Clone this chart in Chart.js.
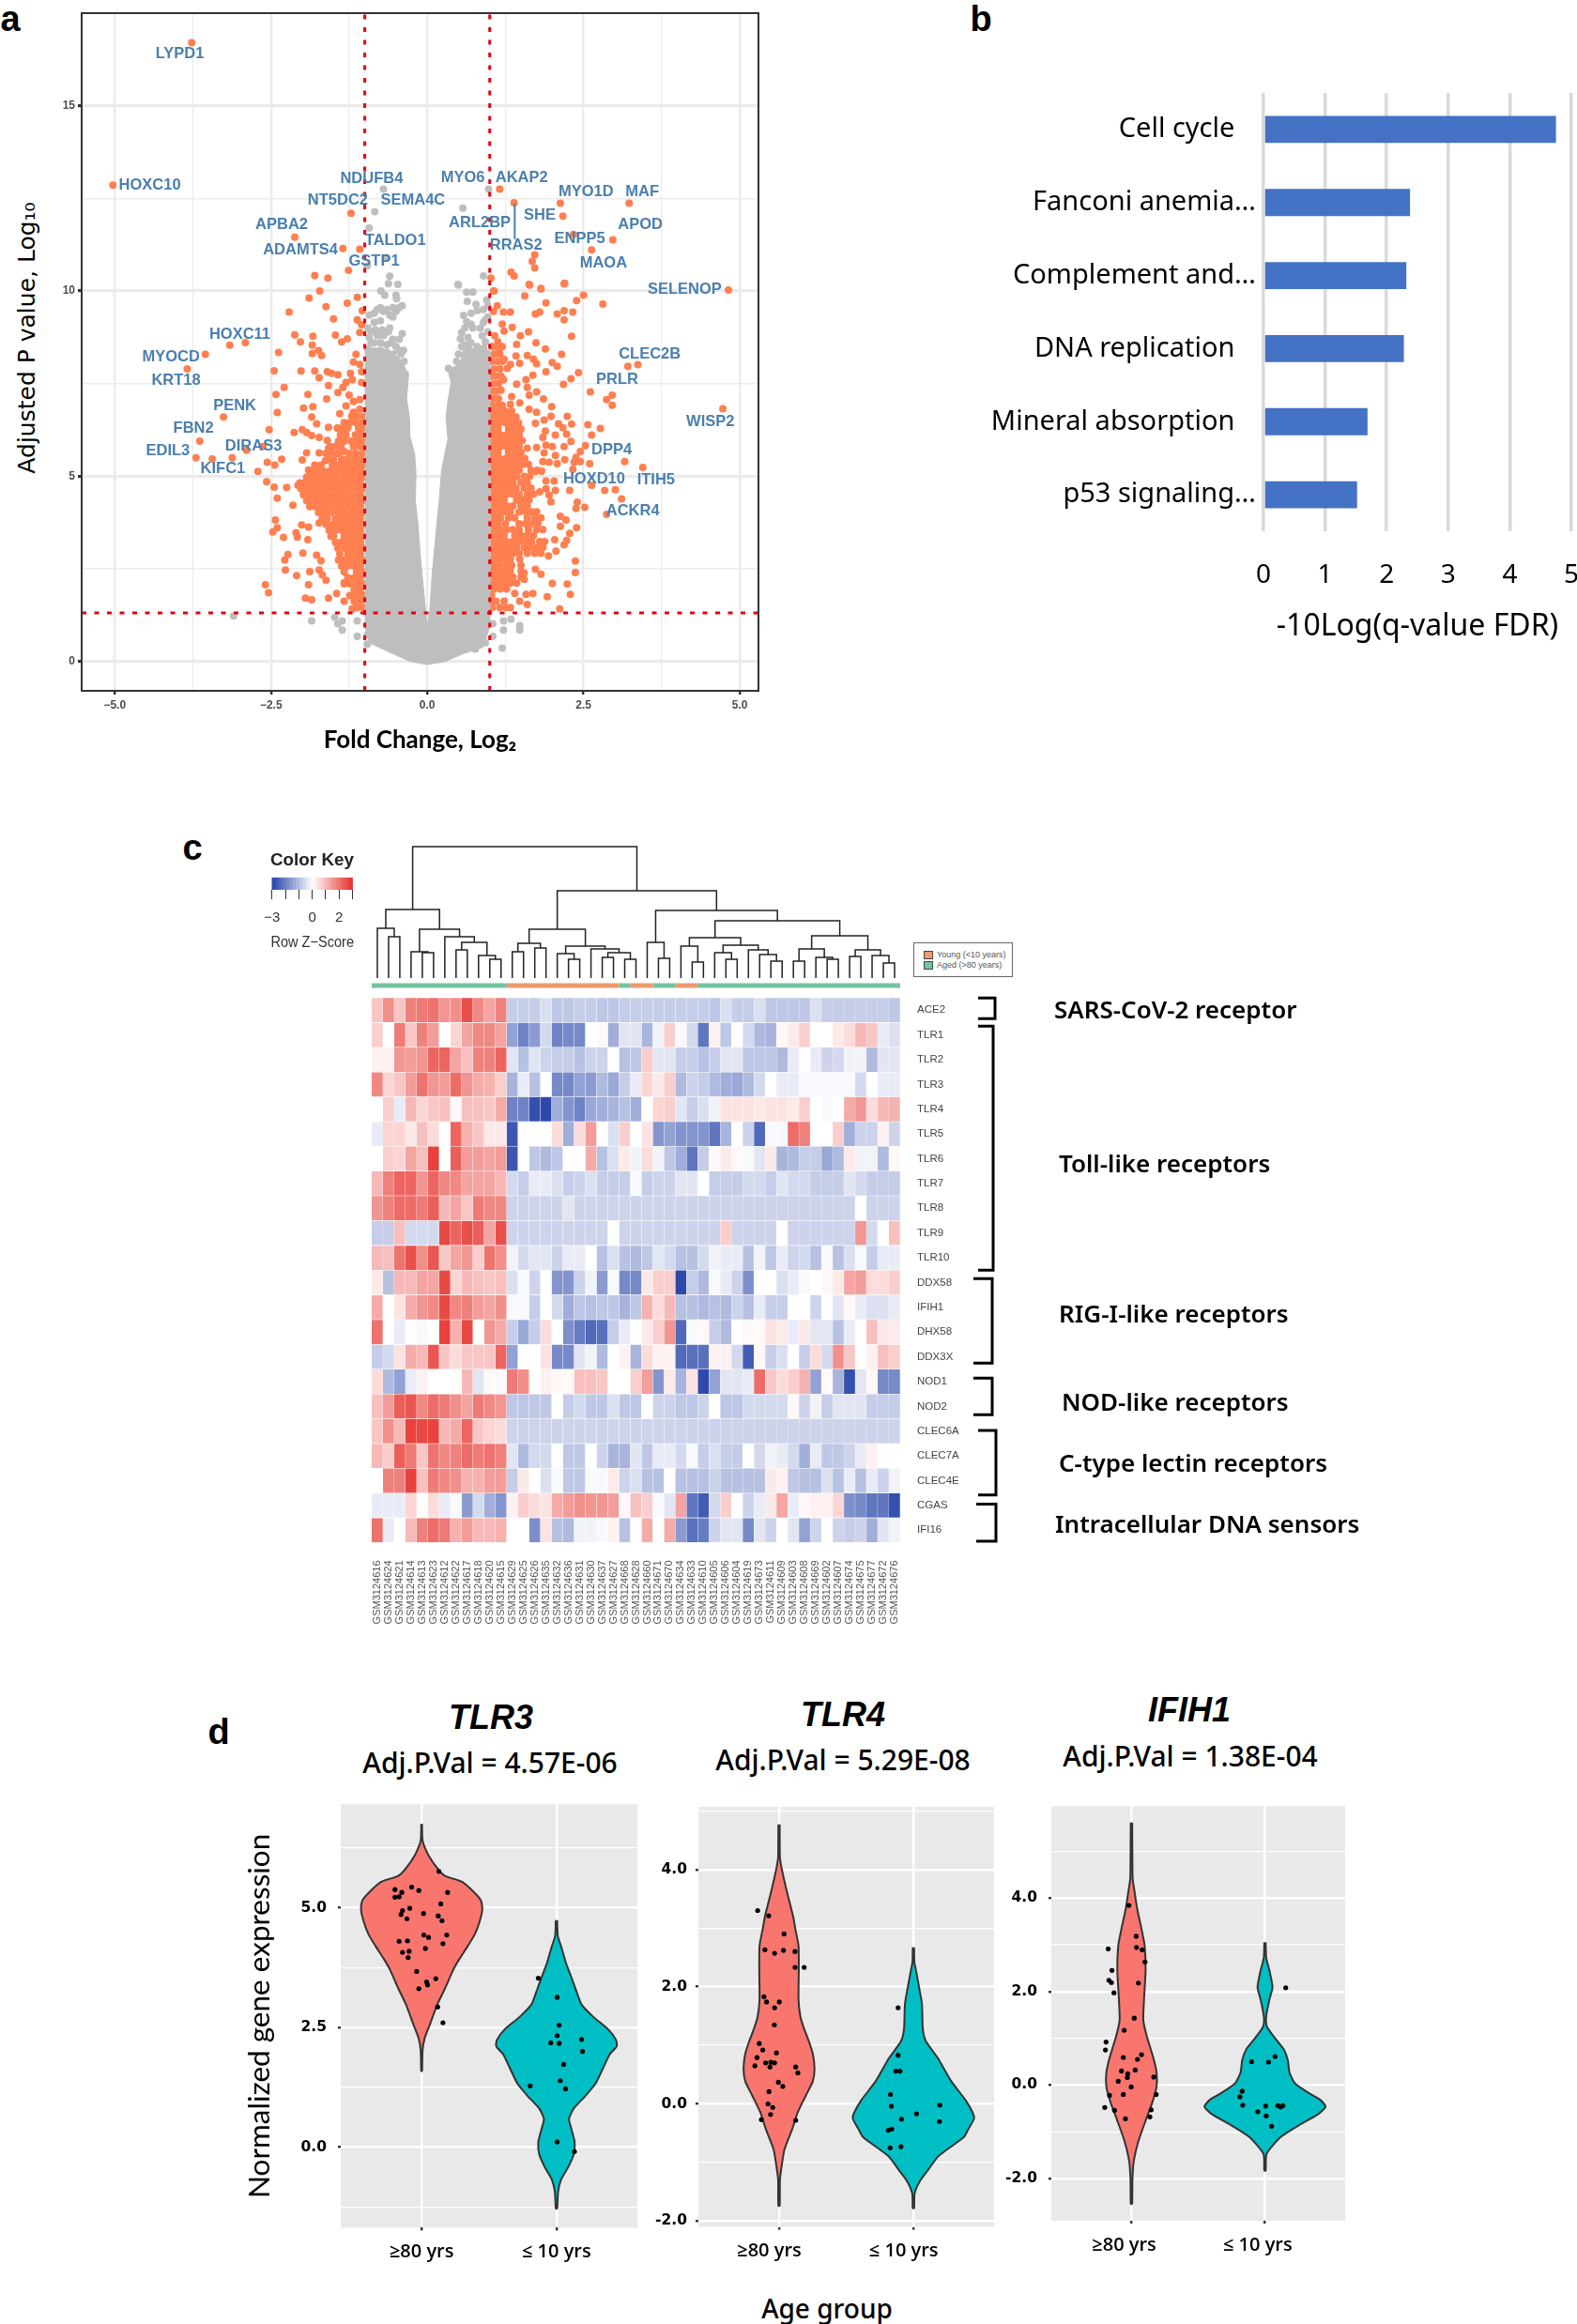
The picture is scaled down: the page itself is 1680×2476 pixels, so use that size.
<!DOCTYPE html>
<html>
<head>
<meta charset="utf-8">
<title>Figure</title>
<script src="https://cdn.jsdelivr.net/npm/chart.js@4/dist/chart.umd.min.js"></script>
<style>
  html, body { margin: 0; padding: 0; background: #fff; }
  #page { position: relative; width: 1680px; height: 2476px; overflow: hidden; }
  #page canvas { position: absolute; }
  .txt { position: absolute; white-space: nowrap; color: #000; line-height: 1; }
  #legendBox { position: absolute; left: 973px; top: 1004px; width: 104px; height: 35px; border: 1px solid #666; font: 9px "Liberation Sans"; color: #555; }
  #legendBox i { position: absolute; left: 10px; width: 8px; height: 7px; border: 1px solid #444; }
  #legendBox span { position: absolute; left: 24px; white-space: nowrap; }
</style>
</head>
<body>
<div id="page">
  <div id="legendBox">
    <i style="top:8px;background:#ee9a6d"></i><span style="top:7px">Young (&lt;10 years)</span>
    <i style="top:19px;background:#74c2a0"></i><span style="top:18px">Aged (&gt;80 years)</span>
  </div>
</div>
<script>
// ---- panel a: volcano plot ----
const volcanoXTicks = [-5, -3.75, -2.5, -1.25, 0, 1.25, 2.5, 3.75, 5];
const volcanoXMajor = [-5, -2.5, 0, 2.5, 5];
const volcanoYTicks = [0, 2.5, 5, 7.5, 10, 12.5, 15];
const volcanoYMajor = [0, 5, 10, 15];
const fcCutoffs = [-1, 1];
const padjCutoff = 1.31;

const geneNames = ['LYPD1','HOXC10','NDUFB4','MYO6','AKAP2','MYO1D','MAF','NT5DC2','SEMA4C','SHE','APBA2','ARL2BP','APOD','TALDO1','ENPP5','ADAMTS4','RRAS2','GSTP1','MAOA','SELENOP','HOXC11','CLEC2B','MYOCD','KRT18','PRLR','PENK','WISP2','FBN2','EDIL3','DIRAS3','DPP4','KIFC1','HOXD10','ITIH5','ACKR4'];
const geneLabelX = [-3.96,-4.44,-0.89,0.57,1.51,2.54,3.44,-1.43,-0.23,1.8,-2.33,0.84,3.41,-0.51,2.44,-2.03,1.42,-0.85,2.82,4.12,-3.0,3.56,-4.1,-4.02,3.04,-3.08,4.53,-3.74,-4.15,-2.78,2.95,-3.27,2.67,3.66,3.29];
const geneLabelY = [16.4,12.85,13.03,13.05,13.05,12.68,12.68,12.44,12.44,12.05,11.78,11.83,11.78,11.36,11.41,11.1,11.24,10.79,10.76,10.03,8.83,8.29,8.22,7.58,7.61,6.91,6.48,6.3,5.68,5.81,5.72,5.19,4.92,4.9,4.05];

// grey V, outline read along the inner and outer edges
const greyVX = [-1,-0.73,-0.58,-0.4,-0.3,-0.33,-0.28,-0.28,-0.2,-0.18,-0.19,-0.15,-0.1,-0.05,0,0.04,0.08,0.14,0.19,0.23,0.33,0.3,0.33,0.38,0.33,0.53,0.58,1,1,0.89,0.57,0.29,0,-0.27,-0.55,-0.92,-1];
const greyVY = [8.46,8.46,8.29,8.12,7.7,7.11,6.52,6.1,5.59,5.08,4.33,3.74,2.64,1.8,0.93,1.37,2.39,3.48,4.33,5.17,6.01,6.6,7.02,7.53,7.87,8.04,8.46,8.4,0.93,0.38,0.21,0,-0.08,0,0.21,0.5,0.93];

const greyPoints = [[-0.7,12.75],[-0.84,12.14],[-0.93,11.7],[-0.66,10.9],[-0.96,10.68],[-0.6,10.4],[-0.62,10.2],[-0.47,10.18],[0.98,12.75],[0.57,12.24],[0.9,10.41],[0.49,10.18],
  [-0.74,10],[-0.68,9.89],[-0.5,9.89],[-0.49,9.79],[-0.93,9.35],[-0.85,9.4],[-0.8,9.5],[-0.75,9.55],[-0.7,9.45],[-0.65,9.5],[-0.6,9.35],[-0.55,9.55],[-0.5,9.45],[-0.45,9.55],[-0.4,9.6],[-0.55,9.3],[-0.75,9.2],[-0.85,9.15],
  [-0.93,8.75],[-0.85,8.6],[-0.8,8.8],[-0.7,8.8],[-0.62,8.9],[-0.55,8.7],[-0.45,8.7],[-0.4,8.85],[-0.65,8.55],[-0.5,8.5],[-0.9,8.6],[-0.75,8.6],[-0.42,8.3],[-0.62,8.2],[-0.35,7.75],[-0.48,8.0],
  [-0.95,9],[-0.9,8.9],[-0.83,8.95],[-0.72,8.95],[-0.6,9],[-0.95,8.45],[-0.85,8.35],[-0.75,8.4],[-0.65,8.35],[-0.55,8.3],[-0.45,8.4],[-0.38,8.4],[-0.37,8.1],[-0.5,8.15],[-0.58,8.6],
  [0.5,10.16],[0.63,9.97],[0.73,9.97],[0.64,9.72],[0.78,9.64],[0.95,9.76],[0.58,9.34],[0.8,9.47],[0.93,9.22],[0.9,9.15],[0.63,9.17],[0.73,9],[0.55,8.88],[0.53,8.71],[0.65,8.75],[0.88,8.79],[0.93,8.63],[0.63,8.41],[0.73,8.37],[0.55,7.99],[0.34,7.91],[0.44,7.66],[0.68,7.95],[0.83,7.99],
  [0.6,8.55],[0.7,8.6],[0.8,8.5],[0.9,8.45],[0.97,8.9],[0.97,9.3],[0.85,9],[0.7,9.1],[0.6,9],[0.9,9.5],[0.97,9.6],[0.7,9.4],[0.65,8.5],[0.55,8.5],[0.5,8.3],[0.47,8.1],[0.6,8.1],
  [-3.1,1.23],[-1.85,1.1],[-1.48,1.19],[-1.36,1.1],[-1.43,1.02],[-1.36,0.85],[-1.12,1.1],[-1.12,0.68],[-0.96,0.72],[-0.96,0.47],[1.48,0.97],[1.48,0.85],[1.34,1.14],[1.22,1.1],[1.05,1.02],[1.22,0.85],[1.05,0.68],[1.2,0.36],[0.77,0.34],[0.93,0.5]];

const orangeDown = [[-3.77,16.7],[-5.03,12.86],[-1.22,12.1],[-2.12,11.45],[-1.35,11.15],[-1.08,11.13],[-1.26,10.56],[-1.8,10.42],[-1.59,10.35],[-3.16,8.54],[-2.91,8.61],[-3.55,8.29],[-3.84,7.9],[-3.26,6.6],[-3.64,5.95],[-3.7,5.5],[-3.44,5.47],[-3.12,5.5],[-2.89,5.7],[-2.63,5.8],
  [-1.72,10],[-1.89,9.81],[-1.12,9.83],[-1.28,9.67],[-1.62,9.58],[-2.21,9.43],[-1.04,9.47],[-1.5,9.25],[-1.12,9.22],[-1.05,9.09],[-1.08,8.88],[-2.12,8.82],[-1.47,8.81],[-1.83,8.78],[-2.03,8.63],[-1.28,8.71],[-1.37,8.63],[-1.84,8.54],[-1.74,8.39],[-2.38,8.34],[-1.84,8.31],[-1.69,8.26],[-1.14,8.29],[-1.18,8.08],[-1.08,8.02],
  [-2.45,7.85],[-2.02,7.84],[-1.8,7.84],[-1.6,7.82],[-1.53,7.78],[-1.43,7.74],[-1.73,7.66],[-1.23,7.78],[-1.05,7.82],[-1.2,7.61],[-1.3,7.53],[-1.58,7.45],[-2.29,7.4],[-1.35,7.4],[-1.05,7.53],[-1.43,7.26],[-2.42,7.21],[-1.91,7.21],[-1.25,7.19],[-1.61,7.09],[-1.18,7.02],[-1.08,7.07],
  [-1.98,6.84],[-1.83,6.88],[-1.3,6.9],[-2.4,6.72],[-1.4,6.69],[-1.18,6.73],[-1.08,6.81],[-1.85,6.6],[-1.15,6.52],[-1.77,6.42],[-1.28,6.43],[-1.58,6.32],[-1.43,6.29],[-2.53,6.26],[-2.13,6.18],[-2,6.26],[-1.93,6.18],[-1.85,6.1],[-1.73,6.05],[-1.6,5.97],[-1.33,6.18],[-1.08,6.26],
  [-1.93,5.63],[-1.73,5.63],[-1.58,5.76],[-2,5.44],[-1.63,5.42],[-1.48,5.59],[-1.33,5.67],[-1.9,5.17],[-2.33,5.46],[-2.44,5.3],[-2.56,5.38],[-2.71,5.13],[-2.57,4.85],[-2.45,4.71],[-2.25,4.7],[-2.07,4.76],[-2.4,4.41],[-2.15,4.22],
  [-2.43,3.82],[-2.4,3.61],[-2.47,3.5],[-2.1,3.48],[-2.08,3.36],[-2.3,3.35],[-1.91,3.29],[-2.01,3.69],[-1.9,3.63],[-1.73,3.74],[-1.99,2.93],[-2.23,2.89],[-2.28,2.74],[-1.77,2.87],[-1.7,2.72],[-2.27,2.47],[-1.88,2.43],[-1.73,2.47],[-1.68,2.34],[-2.09,2.32],[-1.62,2.19],[-1.9,2.07],[-2.59,2.07],[-2.54,1.86],[-1.95,1.71],[-1.85,1.67],[-1.58,1.71],[-1.45,1.84],[-1.33,2.13],[-1.33,1.63],[-1.2,1.42]];

const orangeUp = [[1.16,12.75],[1.39,12.38],[2.13,12.37],[3.23,12.37],[2.17,12.02],[2.34,11.53],[2.97,11.38],[2.63,11.11],[1.72,10.98],[1.68,10.8],[1.72,10.62],[1.34,10.51],[1.39,10.41],[1.02,10.35],[1.63,10.18],[2.2,10.21],[1.82,10.07],[1.06,10],[4.82,10.03],[4.73,6.82],[3.45,5.24],[3.21,7.97],[3.37,8.01],
  [1.07,10],[1.64,10.16],[1.82,10.06],[2.19,10.19],[1.56,9.87],[2.5,9.89],[2.39,9.74],[1.9,9.68],[2.81,9.65],[1.12,9.6],[1.06,9.45],[1.22,9.43],[1.33,9.43],[1.8,9.43],[1.73,9.38],[2.08,9.38],[2.19,9.47],[2.33,9.43],[2.19,9.22],[1.2,9.11],[1.36,9.02],[1.62,8.9],[1.23,8.92],[1.49,8.79],[2.31,8.78],[1.08,8.79],[1.13,8.63],[1.43,8.56],[1.74,8.6],[1.15,8.41],[1.89,8.44],[2.15,8.29],[1.6,8.26],[1.23,8.16],[1.7,8.16],[1.42,8.25],
  [1.33,8.02],[1.48,8.05],[1.75,8.04],[2,8.07],[2.08,7.97],[1.9,7.82],[1.28,7.91],[2.42,7.8],[2.3,7.63],[1.69,7.73],[2.18,7.48],[1.22,7.61],[1.58,7.61],[1.43,7.49],[1.6,7.4],[1.18,7.32],[2.61,7.28],[2.96,7.19],[2.87,7.07],[2.96,6.92],[1.75,7.28],[1.63,7.19],[1.35,7.15],[1.48,6.98],[1.86,7.09],[1.33,6.94],[1.99,6.88],[1.63,6.81],[1.75,6.73],[1.98,6.62],[2.24,6.62],[1.87,6.52],[2.1,6.42],[2.31,6.41],[2.57,6.39],[2.77,6.29],[1.73,6.43],[1.89,6.22],[2.17,6.31],[2.23,6.14],[2.05,6.11],[2.63,6.11],[1.85,6.05],[2.3,5.94],
  [1.9,5.84],[2,5.8],[2.19,5.8],[2.53,5.83],[2.45,5.67],[1.6,5.76],[1.75,5.78],[1.87,5.63],[2.05,5.56],[2.38,5.51],[2.35,5.38],[2.2,5.45],[2.6,5.34],[3.16,5.4],[2.45,5.4],[1.85,5.4],[1.95,5.38],[2.08,5.34],[2.33,5.19],[1.73,5.13],[1.83,5.14],[1.9,4.87],[2.03,4.87],[1.8,4.58],[1.9,4.66],[2.05,4.62],[1.95,4.49],[2.28,4.62],[2.63,4.76],[2.84,4.62],[3.01,4.64],[3.11,4.39],[1.98,4.31],[2.4,4.3],[2.38,4.13],[2.52,4.16],
  [2.13,3.92],[2.22,3.82],[2.87,3.97],[2.13,3.65],[2.39,3.61],[2.28,3.46],[2.04,3.29],[2.23,3.27],[2.19,3.15],[2.06,2.98],[1.94,2.85],[2.37,2.71],[2.37,2.4],[1.73,2.49],[1.82,2.36],[1.35,2.6],[2,2.11],[2.24,2.09],[1.4,1.84],[1.58,1.81],[1.69,1.84],[1.92,1.75],[2.29,1.81],[1.48,1.63],[1.6,1.54],[1.1,1.63],[1.23,1.63],[1.33,1.46],[2.12,1.42],[1.5,2.6],[1.55,2.39],[1.55,2.22]];

// crowded genes next to the cutoffs, listed row by row as [y, [x, x, ...]]
const crowdedDown = [
  [6.62,[-1.02,-1.12,-1.21]],[6.45,[-1.04,-1.14,-1.24,-1.33]],[6.3,[-1.03,-1.1,-1.27,-1.36,-1.44]],[6.12,[-1.06,-1.15,-1.3,-1.39]],[5.95,[-1.03,-1.12,-1.22,-1.33,-1.42]],[5.8,[-1.07,-1.18,-1.38,-1.47,-1.55]],
  [5.62,[-1.03,-1.14,-1.24,-1.42,-1.52,-1.62]],[5.46,[-1.07,-1.17,-1.28,-1.37,-1.5,-1.58]],[5.3,[-1.03,-1.12,-1.22,-1.32,-1.42,-1.52,-1.7,-1.8]],[5.14,[-1.06,-1.16,-1.26,-1.36,-1.46,-1.56,-1.66,-1.76,-1.86]],
  [4.98,[-1.03,-1.12,-1.22,-1.32,-1.43,-1.53,-1.63,-1.73,-1.83,-1.93]],[4.82,[-1.07,-1.17,-1.27,-1.37,-1.47,-1.57,-1.68,-1.78,-1.88,-1.98,-2.04]],[4.66,[-1.03,-1.12,-1.23,-1.32,-1.42,-1.53,-1.63,-1.73,-1.83,-1.93,-2.02]],[4.5,[-1.07,-1.17,-1.28,-1.38,-1.48,-1.58,-1.68,-1.78,-1.88,-1.98]],
  [4.34,[-1.03,-1.13,-1.23,-1.33,-1.43,-1.53,-1.63,-1.73,-1.83,-1.93]],[4.18,[-1.07,-1.17,-1.28,-1.38,-1.48,-1.59,-1.69,-1.8,-1.88]],[4.02,[-1.03,-1.13,-1.22,-1.33,-1.43,-1.54,-1.64,-1.74]],[3.86,[-1.07,-1.17,-1.27,-1.37,-1.47,-1.6,-1.68]],
  [3.7,[-1.03,-1.12,-1.23,-1.33,-1.43,-1.52,-1.62]],[3.54,[-1.07,-1.17,-1.27,-1.37,-1.47,-1.57]],[3.38,[-1.03,-1.13,-1.22,-1.33,-1.5,-1.54]],[3.22,[-1.07,-1.17,-1.28,-1.38,-1.47]],[3.06,[-1.03,-1.13,-1.23,-1.32,-1.43]],[2.9,[-1.07,-1.17,-1.27,-1.4]],
  [2.74,[-1.03,-1.12,-1.23,-1.33,-1.42]],[2.58,[-1.07,-1.18,-1.28,-1.37]],[2.42,[-1.03,-1.13,-1.33]],[2.26,[-1.07,-1.17,-1.27]],[2.1,[-1.03,-1.13,-1.24,-1.33]],[1.94,[-1.07,-1.17]],[1.78,[-1.03,-1.14,-1.24]],[1.62,[-1.07,-1.17]],[1.46,[-1.03,-1.12]]
];
const crowdedUp = [
  [8.5,[1.04,1.12,1.2]],[8.3,[1.07,1.16]],[8.1,[1.03,1.12,1.2]],[7.9,[1.07,1.16]],[7.7,[1.03,1.1,1.18]],[7.5,[1.06,1.14]],[7.3,[1.03,1.1]],[7.1,[1.06,1.14]],[6.92,[1.03,1.12,1.2]],[6.76,[1.06,1.15,1.25,1.35]],
  [6.6,[1.03,1.12,1.22,1.32,1.42]],[6.44,[1.06,1.16,1.26,1.36,1.46]],[6.28,[1.03,1.13,1.3,1.4,1.5]],[6.12,[1.07,1.17,1.27,1.37,1.47]],[5.96,[1.03,1.13,1.23,1.33,1.43,1.52]],[5.8,[1.07,1.17,1.27,1.37,1.47]],
  [5.64,[1.03,1.13,1.3,1.4,1.5]],[5.48,[1.06,1.16,1.26,1.36,1.46,1.56]],[5.32,[1.03,1.13,1.23,1.33,1.43,1.53,1.62]],[5.16,[1.07,1.17,1.27,1.37,1.47,1.66,1.76]],[5,[1.03,1.13,1.23,1.33,1.43,1.55,1.64]],[4.84,[1.07,1.17,1.27,1.37,1.5,1.6]],
  [4.68,[1.03,1.13,1.23,1.33,1.42,1.55,1.66]],[4.52,[1.07,1.17,1.27,1.37,1.47,1.6,1.7]],[4.36,[1.03,1.13,1.23,1.43,1.53,1.63]],[4.2,[1.07,1.17,1.27,1.37,1.5,1.6]],[4.04,[1.03,1.13,1.23,1.33,1.47,1.57,1.67,1.75]],[3.88,[1.07,1.17,1.3,1.4,1.6,1.72,1.82]],
  [3.72,[1.03,1.13,1.25,1.47,1.57,1.67,1.77]],[3.56,[1.07,1.17,1.27,1.37,1.47,1.62,1.75,1.85]],[3.4,[1.03,1.13,1.23,1.4,1.5,1.6,1.7]],[3.24,[1.07,1.17,1.27,1.37,1.47,1.57,1.67,1.8,1.88]],[3.08,[1.03,1.13,1.23,1.33,1.43,1.55,1.65,1.75,1.85]],[2.92,[1.07,1.17,1.27,1.37,1.47,1.6,1.72,1.82]],
  [2.76,[1.03,1.13,1.23,1.33,1.48]],[2.6,[1.07,1.17,1.28]],[2.44,[1.03,1.13,1.23,1.33,1.5]],[2.28,[1.07,1.17,1.27,1.37,1.5]],[2.12,[1.03,1.13,1.23,1.33,1.43]],[1.96,[1.07,1.17,1.27]],[1.8,[1.03]],[1.62,[1.04]],[1.46,[1.04,1.16,1.26]]
];
const rras2LeaderX = [1.4, 1.4];
const rras2LeaderY = [12.35, 11.4];

// ---- panel b: pathway bars ----
const pathwayNames = ['Cell cycle   ', 'Fanconi anemia…', 'Complement and…', 'DNA replication   ', 'Mineral absorption   ', 'p53 signaling…'];
const pathwayValues = [4.75, 2.38, 2.32, 2.28, 1.69, 1.52];

// ---- panel c: heatmap ----
const sampleIds = ['GSM3124616','GSM3124624','GSM3124621','GSM3124614','GSM3124613','GSM3124623','GSM3124612','GSM3124622','GSM3124617','GSM3124618','GSM3124620','GSM3124615','GSM3124629','GSM3124625','GSM3124626','GSM3124635','GSM3124632','GSM3124636','GSM3124631','GSM3124630','GSM3124637','GSM3124627','GSM3124668','GSM3124628','GSM3124660','GSM3124671','GSM3124670','GSM3124634','GSM3124633','GSM3124610','GSM3124605','GSM3124606','GSM3124604','GSM3124619','GSM3124673','GSM3124611','GSM3124609','GSM3124603','GSM3124608','GSM3124669','GSM3124602','GSM3124607','GSM3124674','GSM3124675','GSM3124677','GSM3124672','GSM3124676'];
const rowNames = ['ACE2','TLR1','TLR2','TLR3','TLR4','TLR5','TLR6','TLR7','TLR8','TLR9','TLR10','DDX58','IFIH1','DHX58','DDX3X','NOD1','NOD2','CLEC6A','CLEC7A','CLEC4E','CGAS','IFI16'];
const zACE2 = [.8,1.6,.8,1.8,1.9,2,1.5,1.6,2.5,1.7,1.3,1.8, -.8,-.8,-.8,-.5,-.9,-.9,-.8,-.8,-.9,-.9,-.8,-.8,-.8,-.8,-.8,-.8,-.8,-.8,-.9,-.5,-.8,-.8,-.5,-.9,-.9,-.9,-.9,-.5,-.8,-.8,-.8,-.8,-.8,-.8,-.9];
const zTLR1 = [.7,0,1.9,.8,1.8,1.4,0,.6,1.3,1.7,1.7,1.3, -1.5,-2,-1.6,-.6,-2,-1.9,-1.9,0,.1,-1.3,-.4,-.4,-1.2,-.2,.7,-.1,-.6,-2.2,.2,-.9,0,-.6,-1.1,-1.2,.1,.3,.7,0,0,.3,.5,1,.8,-.3,-.5];
const zTLR2 = [.2,.2,1.5,1.4,1.5,2.2,2.2,1.3,.9,1.8,1.8,2.2, -.4,-1,-.4,-.7,-.8,-.8,-1,-.7,-.7,0,-1,-.9,.7,-.4,-.4,-.8,-.8,-1,-.8,-.4,-.4,-.9,-.9,-.9,-1.1,-.3,0,-.3,-.7,-.6,-.2,-.2,-1.1,-.4,-.4];
const zTLR3 = [1.7,.6,.8,1.4,2,1.5,1.4,2.1,1.5,1.2,1.1,.7, -1.2,-.3,-1,0,-1.9,-1.9,-1.5,-1.6,-1.1,-1.4,-.8,-.3,.6,.3,.7,-1.1,-.7,-.8,-1.1,-1.3,-1.4,-1.1,-.6,0,-.3,-.3,-.1,-.1,-.1,-.1,-.1,-.6,0,-.3,-.3];
const zTLR4 = [0,.7,-.3,1,.6,.8,.9,.1,.9,.9,.8,1.2, -2,-2,-2.8,-2.9,-1.3,-1.7,-2,-1.4,-1.3,-1.2,-1,-1.3,0,.6,.7,-.4,-.8,-.5,-.2,.4,.4,.4,.3,.4,.4,.3,.7,0,-.1,0,1.2,1.5,.5,1,1.1];
const zTLR5 = [-.3,.6,.6,.3,.9,.5,0,2.2,1.1,.8,.3,.3, -2.7,0,0,0,.5,-1.3,.5,1.4,0,-.5,.7,0,.4,-1.7,-1.5,-1.7,-1.7,-1.7,-2.2,-1.2,0,-.7,-2.4,-.1,-.1,2.1,1.8,0,0,.7,-1.3,-.7,-.7,.2,-.7];
const zTLR6 = [0,.7,.6,1.3,.9,2.7,0,2.3,1.4,1.4,1.3,1.4, -2.7,0,-.9,-1.1,-.9,0,0,1.2,-1,-.5,.3,-.2,.5,-.2,-.9,-1.3,-2.2,-.8,.1,.3,.1,-.1,-.4,.3,-1.2,-1.1,-.8,-.8,-1.4,-1.1,.3,-.2,-.2,-1.1,.1];
const zTLR7 = [1,1.8,2.2,2.2,1.5,2.2,1.7,1.7,1.3,1.3,1.3,1, -.6,-.8,-.3,-.3,-.5,-.8,-.7,-.5,-.8,-.8,-.8,-.1,-.8,-.7,-.7,-.4,-.4,0,-.8,-.8,-.8,-.6,-.6,-.8,-.4,-.6,-.6,-.8,-.8,-.8,-.4,-.6,-.8,-.8,-.8];
const zTLR8 = [1.5,1.8,2.1,2.1,1.9,2.3,1,1.3,.8,1.9,1.7,1.7, -.7,-.7,-.7,-.7,-.7,-.4,-.7,-.7,-.7,-.7,-.7,-.7,-.7,-.7,-.7,-.7,-.7,-.7,-.7,-.7,-.7,-.7,-.7,-.7,-.7,-.7,-.7,-.7,-.7,-.7,-.7,0,-.7,-.7,-.7];
const zTLR9 = [-.8,-.8,.9,-.6,-.6,-.6,2.6,2.2,2.5,2.3,1.3,2.5, -.7,-.7,-.7,-.7,-.7,-.7,-.7,-.7,-.7,0,-.7,-.7,-.7,-.7,-.7,-.7,-.7,-.7,-.7,.7,-.7,-.7,-.7,-.7,0,-.7,-.7,-.7,-.7,-.7,-.7,1.5,-.6,0,.9];
const zTLR10 = [1,.9,2,2.5,1.6,2.4,.8,1.3,1.5,.7,2,1.6, -.2,-.6,-.4,-.4,-.7,-.3,-.3,0,-1,-.5,-1,-1.1,-.9,-.4,-.6,-1,-1,-.6,-.2,-.3,-.3,-1,-.2,-.9,-.3,-.7,-.6,-1,-.1,-1,-.5,-.1,-.8,-.3,-.3];
const zDDX58 = [.3,-1,1,1,1.3,1.3,2.6,.6,1,.9,.8,.9, -.5,-.1,-.7,0,-1.7,-1.7,-.7,-.2,-1.6,-.1,-1.9,-1.9,.3,.7,.7,-2.9,-.8,-1.1,-.1,-.3,-.7,-1.8,0,0,-.5,-.3,-.1,0,.1,.3,1.3,1.4,.5,.5,.7];
const zIFIH1 = [1.2,0,.4,1.2,1.5,1.7,2.6,1.7,1.8,1.4,1.3,1.6, -.1,-.1,-.8,0,-.6,-1.3,-.9,-1,-.9,-.9,-1.2,-.9,1.1,.5,1,-1,-1,-1.1,-1,-1.1,-.7,-1,-.3,-.8,-.8,0,0,-.7,0,-.4,.1,-.3,-.5,-.5,-.3];
const zDHX58 = [2,0,-.3,0,-.1,0,2.7,1.1,2.6,0,1.5,1.2, -.8,-1.4,-.8,.5,0,-1.8,-2.1,-2.4,-2.3,-.8,-.3,0,.3,.7,1.5,-2.4,-.1,.1,-.8,-1.1,0,.1,.1,.4,.3,-.3,.3,-.4,-.4,-1,-.3,0,.9,.3,.3];
const zDDX3X = [-.8,-.6,.4,1.2,1,2.4,.8,.5,.8,.8,.8,2.2, -1.5,0,0,.4,-1.9,-1.9,-.4,-.2,-1.1,0,.2,-1.2,.5,.2,.2,-2.4,-2.3,-2.3,.2,.2,-.6,-2.6,.1,-.8,-.5,0,-.8,.5,-.6,1.6,.8,0,.2,.9,.7];
const zNOD1 = [.5,-1.1,-1.5,-.3,.2,0,0,0,1,-.4,.1,.1, 1.9,1.6,0,.2,.1,.1,.9,.9,.8,0,0,.7,1.4,-1.7,.3,-1.2,.4,-2.9,-1.5,-.4,-.4,-.3,2.1,.8,.5,.7,1.1,-1.5,.1,-1.2,-2.8,-.4,.1,-1.9,-1.9];
const zNOD2 = [.9,1.4,2.3,2.4,1.7,2.1,1.9,1.6,1.3,1.9,1.7,1.5, -.9,-.9,-.9,-.9,0,-.8,-.6,-.9,-.9,-.5,-.9,-.9,0,-.7,-.7,-.9,-.9,-.7,0,-.9,-.9,-.6,-.6,-.6,-.6,.1,-.7,-.2,-.8,-.4,-.4,-.4,-.8,-.8,-.8];
const zCLEC6A = [.8,1.6,1,2.7,2.6,2.7,1,1.2,2.2,.8,.6,.5, -.7,-.7,-.7,-.7,-.7,-.7,-.7,-.7,-.7,-.7,-.7,-.7,-.7,-.7,-.7,-.7,-.7,-.7,-.7,-.7,-.7,-.7,-.7,-.7,-.7,-.7,-.7,-.7,-.7,-.7,-.7,-.7,-.7,-.7,-.7];
const zCLEC7A = [1,.7,2.3,1.9,.8,2,1.7,1.8,2.1,1.9,2,1.8, -.4,-1.1,-.6,-.6,0,-.9,-.9,0,-.7,-1.2,-1.2,-.4,-.9,-.3,-.3,-.6,-.1,-.8,-.5,-.8,-.8,0,-.6,-.2,-.3,-.6,-1.3,-.3,-.9,-.9,-.7,-.3,.2,0,0];
const zCLEC4E = [0,1.8,1.8,2.7,.9,1.9,1.7,1.6,1.1,1.1,1.4,1.4, -.8,.3,0,-.5,-.1,-.9,-.9,-.1,-.1,.3,-.7,-.5,-1,-1,0,-1,-1,-1,-.7,-1,-1,-1,-1,.3,.2,-.9,-1,-1,-.5,-1,-.3,-1,-.3,-.7,-.2];
const zCGAS = [-.3,-.3,-.3,.6,0,.5,-.3,-.1,-1.6,-.6,-1.3,-1.7, .2,.7,.5,.4,1.2,1.4,1.6,1.5,1.5,1.4,.1,.9,.7,-.1,-.4,1.3,-2.2,-2.6,-.6,.7,0,-.7,-.3,.3,1.3,-.3,.1,.2,.2,.6,-1.8,-1.9,-2.2,-2.2,-2.8];
const zIFI16 = [2,-.3,0,1,1.8,2.1,1.9,1.1,1.4,1,1,1.1, 0,0,-1.8,.4,-1,-1.1,-.2,-.2,-.1,.2,-1,0,1.2,0,1.2,-1.6,-2.3,-2.1,-.7,-.4,-.4,-1.9,-.4,-.7,0,-.4,-1.5,-.7,0,-.7,-.8,-.7,-1.3,-.4,-.2];
const heatRows = [zACE2,zTLR1,zTLR2,zTLR3,zTLR4,zTLR5,zTLR6,zTLR7,zTLR8,zTLR9,zTLR10,zDDX58,zIFIH1,zDHX58,zDDX3X,zNOD1,zNOD2,zCLEC6A,zCLEC7A,zCLEC4E,zCGAS,zIFI16];

const colorKeyBreaks = [-3,-2.75,-2.5,-2.25,-2,-1.75,-1.5,-1.25,-1,-0.75,-0.5,-0.25,0,0.25,0.5,0.75,1,1.25,1.5,1.75,2,2.25,2.5,2.75,3];
const colorKeyTicks = [-3,-2,-1,0,1,2,3];
const colorKeyLabelled = [-3,0,2];

// receptor groups right of the heatmap, bracket ends in row units
const groupNames = ['SARS-CoV-2 receptor','Toll-like receptors','RIG-I-like receptors','NOD-like receptors','C-type lectin receptors','Intracellular DNA sensors'];
const groupBracketTop = [-.49,.65,10.84,14.86,16.97,19.95];
const groupBracketEnd = [.34,10.5,14.25,16.34,19.58,21.44];
const groupLabelRow = [.04,6.28,12.35,15.91,18.34,20.84];

// dendrogram as nested [height, left, right], a plain number is a column index
const treeAged = [73,[53,0,[44,1,2]],[52,[28,3,[27,4,5]],[44,6,[38,[30,7,8],[24,9,[20,10,11]]]]]];
const treeMid = [52,[37,[28,12,13],[32,14,15]],[34,[26,16,[20,17,18]],[31,19,[27,[22,20,21],[20,22,23]]]]];
const treeRest = [72,[38,24,[21,25,26]],[61,[43,[34,27,[17,28,29]],[35,[27,30,[20,31,32]],[30,33,[25,34,[18,35,36]]]]],[45,[31,[18,37,38],[22,39,[20,40,41]]],[30,[23,42,43],[24,44,[16,45,46]]]]]];
const dendroTree = [140,treeAged,[93,treeMid,treeRest]];
const groupBreaks = [0,12,22,23,25,27,29,47];
const groupBarColors = ['#74c2a0','#ee9a6d','#74c2a0','#ee9a6d','#74c2a0','#ee9a6d','#74c2a0'];

// ---- panel d: violins, half widths at the listed expression values ----
const ageGroups = ['≥80 yrs', '≤ 10 yrs'];

const tlr3OldY = [6.75,6.45,6.32,6.10,5.84,5.67,5.54,5.32,5.15,4.97,4.71,4.45,4.19,3.93,3.72,3.32,2.98,2.54,2.28,2.02,1.59];
const tlr3OldW = [.003,.005,.015,.05,.112,.17,.30,.39,.44,.45,.43,.395,.34,.28,.237,.174,.116,.058,.023,.007,.003];
const tlr3YoungY = [4.74,4.41,4.19,3.85,3.59,3.24,2.98,2.72,2.46,2.24,2.11,1.94,1.68,1.33,1.07,.81,.59,.37,.11,-.15,-.41,-.67,-.93,-1.28];
const tlr3YoungW = [.005,.01,.035,.07,.105,.15,.186,.274,.384,.442,.447,.395,.35,.29,.214,.128,.093,.112,.135,.128,.088,.035,.012,.005];
const tlr3OldPts = [[1.128,5.76],[.802,5.38],[.853,5.32],[.926,5.43],[.979,5.36],[1.193,5.32],[.802,5.22],[.833,5.23],[.912,4.99],[.858,4.94],[.847,4.86],[.891,4.77],[1.014,4.88],[1.142,5.08],[1.123,4.83],[1.151,4.73],[.833,4.30],[.895,4.31],[1.016,4.43],[1.051,4.38],[1.186,4.43],[1.158,4.25],[1.028,4.15],[.858,4.07],[.907,4.09],[.9,3.96],[.963,3.67],[1.105,3.52],[1.037,3.45],[1.044,3.39],[.979,3.31],[1.119,2.93],[1.158,2.60]];
const tlr3YoungPts = [[1.865,3.53],[2.005,3.13],[2.02,2.55],[2.005,2.33],[2.186,2.25],[1.958,2.18],[2.02,2.17],[2.193,2],[2.053,1.73],[2.028,1.39],[1.805,1.28],[2.067,1.22],[2.005,.11],[2.133,-.09]];

const tlr4OldY = [4.77,4.20,3.98,3.63,3.20,2.99,2.70,2.28,1.78,1.49,1.28,1.07,.85,.60,.39,.14,-.14,-.43,-.78,-1.07,-1.28,-1.74];
const tlr4OldW = [.005,.007,.023,.058,.105,.121,.145,.147,.145,.159,.187,.222,.252,.264,.252,.199,.14,.098,.04,.019,.007,.005];
const tlr4YoungY = [2.67,2.42,2.28,1.99,1.71,1.28,1.07,.78,.39,.07,-.14,-.25,-.43,-.57,-.89,-1.14,-1.32,-1.53,-1.78];
const tlr4YoungW = [.005,.007,.019,.042,.063,.07,.093,.182,.28,.386,.439,.451,.409,.374,.187,.105,.047,.009,.005];
const tlr4OldPts = [[.841,3.30],[.923,3.21],[1.037,2.90],[.895,2.63],[.967,2.57],[1.033,2.62],[1.119,2.60],[1.119,2.33],[1.187,2.33],[.888,1.83],[.907,1.74],[1.002,1.74],[.967,1.64],[.965,1.35],[.853,1.03],[.879,.92],[.981,.87],[.836,.79],[.9,.70],[.939,.71],[.967,.70],[.932,.63],[.82,.65],[1.124,.63],[1.14,.53],[.995,.37],[1.028,.30],[.925,.21],[.918,0],[.953,-.06],[.937,-.18],[.869,-.27],[1.124,-.28]];
const tlr4YoungPts = [[1.886,1.64],[1.886,.83],[1.869,.56],[1.9,.56],[1.829,.16],[1.836,-.04],[2.023,-.17],[2.196,-.02],[2.194,-.30],[1.911,-.26],[1.813,-.45],[1.839,-.43],[1.827,-.75],[1.907,-.73]];

const ifih1OldY = [5.61,4.85,4.41,4.14,3.78,3.34,2.98,2.45,1.83,1.38,1.02,.58,.27,-.04,-.40,-.76,-1.2,-1.65,-2.05,-2.54];
const ifih1OldW = [.005,.007,.009,.023,.042,.075,.099,.106,.094,.089,.117,.164,.188,.188,.153,.106,.052,.016,.007,.005];
const ifih1YoungY = [3.05,2.72,2.45,2.09,1.83,1.47,1.25,1.02,.76,.53,.27,.04,-.13,-.31,-.46,-.62,-.85,-1.11,-1.47,-1.83];
const ifih1YoungW = [.005,.009,.033,.056,.033,.009,.014,.07,.141,.171,.183,.223,.305,.411,.453,.399,.258,.117,.012,.005];
const ifih1OldPts = [[.981,3.84],[1.035,3.18],[.826,2.91],[1.038,2.94],[1.08,2.89],[1.101,2.63],[.854,2.45],[.831,2.24],[.85,2.19],[1.052,2.18],[.869,1.97],[1.021,1.43],[.946,1.17],[.81,.92],[.805,.75],[1.075,.65],[.939,.59],[1.045,.55],[.925,.30],[1.028,.32],[.972,.24],[.969,.16],[1.167,.17],[.901,.08],[.998,-.04],[.836,-.22],[.939,-.2],[1.185,-.2],[.8,-.48],[.873,-.54],[1.148,-.53],[1.138,-.68],[.955,-.72]];
const ifih1YoungPts = [[2.155,2.08],[1.899,.5],[2.026,.49],[2.075,.61],[1.829,-.13],[1.812,-.25],[1.833,-.43],[2.005,-.45],[2.096,-.44],[2.117,-.47],[2.134,-.44],[1.946,-.57],[2.009,-.66],[2.049,-.88]];

const ticksTlr3 = [-1.25,0,1.25,2.5,3.75,5,6.25];
const majorTlr3 = [0,2.5,5];
const ticksTlr4 = [-2,-1,0,1,2,3,4,5];
const majorTlr4 = [-2,0,2,4];
const ticksIfih1 = [-2,-1,0,1,2,3,4,5];
const majorIfih1 = [-2,0,2,4];

// text that sits outside the chart boxes
const CALIBRI = 'Lato';
const pageTexts = [
  { t: 'a', x: 11, y: 20, font: 'bold 38px "Liberation Sans"' },
  { t: 'b', x: 1045, y: 20, font: 'bold 38px "Liberation Sans"' },
  { t: 'c', x: 205, y: 903, font: 'bold 38px "Liberation Sans"' },
  { t: 'd', x: 233, y: 1845, font: 'bold 38px "Liberation Sans"' },
  { t: 'Adjusted P value, Log₁₀', x: 28, y: 360, font: '25px "DejaVu Sans"', rot: -90 },
  { t: 'TLR3', x: 523, y: 1830, font: 'italic bold 36px "Liberation Sans"' },
  { t: 'Adj.P.Val = 4.57E-06', x: 522, y: 1878, font: '500 30px "Noto Sans"' },
  { t: 'TLR4', x: 898, y: 1827, font: 'italic bold 36px "Liberation Sans"' },
  { t: 'Adj.P.Val = 5.29E-08', x: 898, y: 1875, font: '500 30px "Noto Sans"' },
  { t: 'IFIH1', x: 1267, y: 1822, font: 'italic bold 36px "Liberation Sans"' },
  { t: 'Adj.P.Val = 1.38E-04', x: 1268, y: 1871, font: '500 30px "Noto Sans"' },
  { t: 'Age group', x: 881, y: 2459, font: '500 28px "Noto Sans"' }
];

const page = document.getElementById('page');

pageTexts.forEach(p => {
  const el = document.createElement('div');
  el.className = 'txt';
  el.textContent = p.t;
  el.style.font = p.font;
  el.style.lineHeight = '1';
  el.style.left = p.x + 'px';
  el.style.top = p.y + 'px';
  el.style.transform = 'translate(-50%,-50%)' + (p.rot ? ' rotate(' + p.rot + 'deg)' : '');
  page.appendChild(el);
});

function addCanvas(left, top, width, height) {
  const c = document.createElement('canvas');
  c.width = width;
  c.height = height;
  c.style.left = left + 'px';
  c.style.top = top + 'px';
  c.style.width = width + 'px';
  c.style.height = height + 'px';
  page.appendChild(c);
  return c.getContext('2d');
}

function boxSize(size) {
  return scale => {
    if (scale.isHorizontal()) scale.height = size;
    else scale.width = size;
  };
}

function useTicks(values) {
  return scale => { scale.ticks = values.map(v => ({ value: v })); };
}

function pairs(list) {
  return list.map(p => ({ x: p[0], y: p[1] }));
}

function zip(xs, ys) {
  return xs.map((x, i) => ({ x: x, y: ys[i] }));
}

function rowsToPoints(rows) {
  return rows.flatMap(r => r[1].map(x => ({ x: x, y: r[0] })));
}

Chart.defaults.animation = false;
Chart.defaults.responsive = false;
Chart.defaults.maintainAspectRatio = false;
Chart.defaults.devicePixelRatio = 1;
Chart.defaults.plugins.legend.display = false;
Chart.defaults.plugins.tooltip.enabled = false;

// panel a
const volcanoMin = -0.79, volcanoMax = 17.5;
const volcanoLeft = -5.53, volcanoRight = 5.30;
const cutoffStyle = { showLine: true, borderColor: '#e8000b', borderWidth: 3, borderDash: [5, 8.5], pointRadius: 0 };
const orangeDot = { backgroundColor: '#ff7f50', pointRadius: 4, pointBorderWidth: 0 };
new Chart(addCanvas(0, 0, 840, 820), {
  type: 'scatter',
  data: {
    datasets: [
      Object.assign({ data: [{ x: fcCutoffs[0], y: volcanoMin }, { x: fcCutoffs[0], y: volcanoMax }] }, cutoffStyle),
      Object.assign({ data: [{ x: fcCutoffs[1], y: volcanoMin }, { x: fcCutoffs[1], y: volcanoMax }] }, cutoffStyle),
      Object.assign({ data: [{ x: volcanoLeft, y: padjCutoff }, { x: volcanoRight, y: padjCutoff }] }, cutoffStyle),
      { data: zip(rras2LeaderX, rras2LeaderY), showLine: true, borderColor: '#4a7fae', borderWidth: 2, pointRadius: 0 },
      { data: zip(greyVX, greyVY), showLine: true, fill: 'shape', backgroundColor: '#bebebe', borderColor: '#bebebe', borderWidth: 1, pointRadius: 0 },
      { data: pairs(greyPoints), backgroundColor: '#bebebe', pointRadius: 4, pointBorderWidth: 0 },
      Object.assign({ data: pairs(orangeDown) }, orangeDot),
      Object.assign({ data: pairs(orangeUp) }, orangeDot),
      Object.assign({ data: rowsToPoints(crowdedDown) }, orangeDot),
      Object.assign({ data: rowsToPoints(crowdedUp) }, orangeDot)
    ]
  },
  options: {
    layout: { padding: { top: 14, right: 32 } },
    scales: {
      x: {
        min: volcanoLeft, max: volcanoRight,
        afterBuildTicks: useTicks(volcanoXTicks),
        afterFit: boxSize(84),
        border: { display: false },
        grid: {
          color: '#ebebeb',
          lineWidth: c => volcanoXMajor.includes(c.tick.value) ? 2.4 : 1.2,
          tickLength: 4,
          tickColor: c => volcanoXMajor.includes(c.tick.value) ? '#333' : 'rgba(0,0,0,0)'
        },
        ticks: {
          autoSkip: false, maxRotation: 0, padding: 4, color: '#4d4d4d',
          font: { family: 'Liberation Sans', weight: 'bold', size: 12 },
          callback: v => volcanoXMajor.includes(v) ? v.toFixed(1).replace('-', '−') : ''
        },
        title: { display: true, text: 'Fold Change, Log₂', color: '#000', font: { family: CALIBRI, weight: 'bold', size: 26 }, padding: { bottom: 16 } }
      },
      y: {
        min: volcanoMin, max: volcanoMax,
        afterBuildTicks: useTicks(volcanoYTicks),
        afterFit: boxSize(87),
        border: { display: false },
        grid: {
          color: '#ebebeb',
          lineWidth: c => volcanoYMajor.includes(c.tick.value) ? 3.2 : 1.4,
          tickLength: 4,
          tickColor: c => volcanoYMajor.includes(c.tick.value) ? '#333' : 'rgba(0,0,0,0)'
        },
        ticks: {
          autoSkip: false, padding: 3, color: '#4d4d4d',
          font: { family: 'Liberation Sans', weight: 'bold', size: 12 },
          callback: v => volcanoYMajor.includes(v) ? String(v) : ''
        }
      }
    }
  },
  plugins: [{
    id: 'volcanoExtras',
    afterDatasetsDraw(chart) {
      const { ctx, chartArea: a, scales } = chart;
      ctx.save();
      ctx.font = 'bold 16.5px "Liberation Sans"';
      ctx.fillStyle = '#4a7fae';
      ctx.textAlign = 'center';
      ctx.textBaseline = 'middle';
      geneNames.forEach((g, i) => {
        ctx.fillText(g, scales.x.getPixelForValue(geneLabelX[i]), scales.y.getPixelForValue(geneLabelY[i]));
      });
      ctx.strokeStyle = '#333';
      ctx.lineWidth = 2;
      ctx.strokeRect(a.left, a.top, a.right - a.left, a.bottom - a.top);
      ctx.restore();
    }
  }]
});

// panel b, the canvas runs past the page edge to leave room for the margin Chart.js adds for the last tick label
new Chart(addCanvas(1000, 80, 712, 620), {
  type: 'bar',
  data: {
    labels: pathwayNames,
    datasets: [{ data: pathwayValues, backgroundColor: '#4472c4', barPercentage: 0.37, categoryPercentage: 1 }]
  },
  options: {
    indexAxis: 'y',
    layout: { padding: { top: 19 } },
    scales: {
      x: {
        min: 0, max: 5,
        afterFit: boxSize(134),
        border: { display: false },
        grid: { color: '#d9d9d9', lineWidth: 3.5, drawTicks: false },
        ticks: { stepSize: 1, padding: 30, color: '#000', font: { family: 'Noto Sans', size: 28 } },
        title: { display: true, text: '-10Log(q-value FDR)', color: '#000', font: { family: 'Noto Sans', size: 32 }, padding: { bottom: 13 } }
      },
      y: {
        afterFit: boxSize(346),
        border: { display: false },
        grid: { display: false },
        ticks: { padding: 0, color: '#000', font: { family: 'Noto Sans', size: 29 } }
      }
    }
  }
});

// panel c: colour scale shared by the key and the cells
function zColor(z) {
  const t = Math.min(Math.abs(z) / 3, 1);
  const end = z < 0 ? [38, 68, 168] : [229, 45, 38];
  const mix = end.map(e => Math.round(255 + (e - 255) * t));
  return 'rgb(' + mix.join(',') + ')';
}

new Chart(addCanvas(270, 905, 125, 110), {
  type: 'bar',
  data: {
    labels: ['key'],
    datasets: colorKeyBreaks.slice(0, -1).map((b, i) => ({
      data: [[b, colorKeyBreaks[i + 1]]],
      backgroundColor: zColor((b + colorKeyBreaks[i + 1]) / 2),
      grouped: false,
      barPercentage: 1,
      categoryPercentage: 1
    }))
  },
  options: {
    indexAxis: 'y',
    layout: { padding: { left: 18, right: 18 } },
    plugins: {
      title: { display: true, text: 'Color Key', color: '#222', font: { family: 'Liberation Sans', weight: 'bold', size: 19 }, padding: { top: 0, bottom: 7 } }
    },
    scales: {
      x: {
        min: -3.1, max: 3.1,
        afterBuildTicks: useTicks(colorKeyTicks),
        afterFit: boxSize(67),
        border: { display: false },
        grid: { drawOnChartArea: false, tickLength: 10, tickColor: '#333' },
        ticks: {
          autoSkip: false, maxRotation: 0, padding: 11, color: '#333',
          font: { family: 'Liberation Sans', size: 15 },
          callback: v => colorKeyLabelled.includes(v) ? String(v).replace('-', '−') : ''
        },
        title: { display: true, text: 'Row Z−Score', color: '#333', font: { family: 'Liberation Sans', size: 16.5 }, padding: { bottom: 1 } }
      },
      y: { display: false }
    }
  }
});

// dendrogram, one dataset for each merge
const dendroSets = [];
function walkTree(node) {
  if (typeof node === 'number') return { x: node + 0.5, h: 0 };
  const l = walkTree(node[1]);
  const r = walkTree(node[2]);
  dendroSets.push({
    data: [{ x: l.x, y: l.h }, { x: l.x, y: node[0] }, { x: r.x, y: node[0] }, { x: r.x, y: r.h }],
    showLine: true, borderColor: '#222', borderWidth: 1.5, pointRadius: 0
  });
  return { x: (l.x + r.x) / 2, h: node[0] };
}
walkTree(dendroTree);
groupBarColors.forEach((color, i) => {
  dendroSets.push({
    data: [{ x: groupBreaks[i], y: -8 }, { x: groupBreaks[i + 1], y: -8 }],
    showLine: true, borderColor: color, borderWidth: 5, pointRadius: 0, borderCapStyle: 'butt'
  });
});
new Chart(addCanvas(396, 897, 563, 158), {
  type: 'scatter',
  data: { datasets: dendroSets },
  options: {
    scales: {
      x: { display: false, min: 0, max: 47 },
      y: { display: false, min: -13, max: 145 }
    }
  }
});

// heatmap: horizontal stacked bars, one dataset for each sample column
new Chart(addCanvas(376, 1043, 1124, 717), {
  type: 'bar',
  data: {
    labels: rowNames,
    datasets: sampleIds.map((id, col) => ({
      label: id,
      data: rowNames.map(() => 1),
      backgroundColor: heatRows.map(row => zColor(row[col])),
      borderColor: 'rgba(255,255,255,0.22)',
      borderWidth: 0.6,
      barPercentage: 1,
      categoryPercentage: 1
    }))
  },
  options: {
    indexAxis: 'y',
    layout: { padding: { top: 20, left: 20 } },
    scales: {
      x: {
        stacked: true, min: 0, max: 47,
        afterBuildTicks: useTicks(sampleIds.map((id, i) => i + 0.5)),
        afterFit: boxSize(116.5),
        border: { display: false },
        grid: { display: false },
        ticks: {
          autoSkip: false, minRotation: 90, maxRotation: 90, padding: 11, color: '#555',
          font: { family: 'Liberation Sans', size: 11 },
          callback: v => sampleIds[Math.floor(v)]
        }
      },
      y: {
        stacked: true, position: 'right',
        afterFit: boxSize(541),
        border: { display: false },
        grid: { display: false },
        ticks: { padding: 10, color: '#444', font: { family: 'Liberation Sans', size: 11.5 } }
      }
    }
  },
  plugins: [{
    id: 'receptorGroups',
    afterDraw(chart) {
      const { ctx, scales } = chart;
      const rowY = r => scales.y.getPixelForValue(0) + r * (scales.y.getPixelForValue(1) - scales.y.getPixelForValue(0));
      const bracketL = [666, 666, 661, 661, 666, 664];
      const bracketR = [684, 682, 681, 681, 685, 685];
      const labelL = [747, 752, 752, 755, 752, 748];
      ctx.save();
      ctx.strokeStyle = '#000';
      ctx.lineWidth = 3;
      ctx.fillStyle = '#000';
      ctx.font = '600 26px "Noto Sans"';
      ctx.textBaseline = 'middle';
      groupNames.forEach((name, i) => {
        const top = rowY(groupBracketTop[i]), end = rowY(groupBracketEnd[i]);
        ctx.beginPath();
        ctx.moveTo(bracketL[i], top);
        ctx.lineTo(bracketR[i], top);
        ctx.lineTo(bracketR[i], end);
        ctx.lineTo(bracketL[i], end);
        ctx.stroke();
        ctx.fillText(name, labelL[i], rowY(groupLabelRow[i]));
      });
      ctx.restore();
    }
  }]
});

// panel d
function violinOutline(center, ys, ws) {
  const right = ys.map((y, i) => ({ x: center + ws[i], y: y }));
  const left = ys.map((y, i) => ({ x: center - ws[i], y: y })).reverse();
  return right.concat(left);
}

const greyPanel = {
  id: 'greyPanel',
  beforeDraw(chart) {
    const { ctx, chartArea: a } = chart;
    ctx.save();
    ctx.fillStyle = '#e9e9e9';
    ctx.fillRect(a.left, a.top, a.right - a.left, a.bottom - a.top);
    ctx.restore();
  }
};

function violinChart(cfg) {
  const violinStyle = { showLine: true, fill: 'shape', borderColor: '#333', borderWidth: 2, pointRadius: 0, tension: 0.2 };
  const dotStyle = { backgroundColor: '#000', pointRadius: 2.6, pointBorderWidth: 0 };
  const yScale = {
    min: cfg.yMin, max: cfg.yMax,
    afterBuildTicks: useTicks(cfg.yTicks),
    afterFit: boxSize(cfg.axisWidth),
    border: { display: false },
    grid: {
      color: '#fff',
      lineWidth: c => cfg.yMajor.includes(c.tick.value) ? 2.4 : 1.2,
      tickLength: 3,
      tickColor: c => cfg.yMajor.includes(c.tick.value) ? '#333' : 'rgba(0,0,0,0)'
    },
    ticks: {
      autoSkip: false, padding: cfg.labelPad, color: '#000',
      font: { family: 'DejaVu Sans', weight: 'bold', size: 15.5 },
      callback: v => cfg.yMajor.includes(v) ? v.toFixed(1) : ''
    }
  };
  if (cfg.yTitle) {
    yScale.title = { display: true, text: cfg.yTitle, color: '#000', font: { family: CALIBRI, size: 31.5 }, padding: { top: 3 } };
  }
  new Chart(addCanvas(cfg.left, cfg.top, cfg.width, 2476 - cfg.top), {
    type: 'scatter',
    data: {
      datasets: [
        Object.assign({ data: pairs(cfg.oldPts) }, dotStyle),
        Object.assign({ data: pairs(cfg.youngPts) }, dotStyle),
        Object.assign({ data: violinOutline(1, cfg.oldY, cfg.oldW), backgroundColor: '#F8766D' }, violinStyle),
        Object.assign({ data: violinOutline(2, cfg.youngY, cfg.youngW), backgroundColor: '#00BFC4' }, violinStyle)
      ]
    },
    options: {
      layout: { padding: { top: 20, right: cfg.rightPad } },
      scales: {
        x: {
          min: 0.4, max: 2.6,
          afterBuildTicks: useTicks([1, 2]),
          afterFit: boxSize(2476 - cfg.plotBottom),
          border: { display: false },
          grid: { color: '#fff', lineWidth: 2.4, tickLength: 3, tickColor: '#333' },
          ticks: {
            autoSkip: false, maxRotation: 0, padding: 11, color: '#000',
            font: { family: 'Open Sans', weight: '600', size: 20 },
            callback: v => ageGroups[v - 1] + cfg.labelShift
          }
        },
        y: yScale
      }
    },
    plugins: [greyPanel]
  });
}

violinChart({
  left: 255, top: 1901, width: 430, rightPad: 6, axisWidth: 108, plotBottom: 2373.4, labelPad: 12, labelShift: '',
  yMin: -1.68, yMax: 7.16, yTicks: ticksTlr3, yMajor: majorTlr3, yTitle: 'Normalized gene expression',
  oldY: tlr3OldY, oldW: tlr3OldW, youngY: tlr3YoungY, youngW: tlr3YoungW, oldPts: tlr3OldPts, youngPts: tlr3YoungPts
});
violinChart({
  left: 690, top: 1905, width: 375, rightPad: 6, axisWidth: 54, plotBottom: 2372.6, labelPad: 9, labelShift: '    ',
  yMin: -2.1, yMax: 5.07, yTicks: ticksTlr4, yMajor: majorTlr4,
  oldY: tlr4OldY, oldW: tlr4OldW, youngY: tlr4YoungY, youngW: tlr4YoungW, oldPts: tlr4OldPts, youngPts: tlr4YoungPts
});
violinChart({
  left: 1070, top: 1903, width: 370, rightPad: 7, axisWidth: 50, plotBottom: 2366, labelPad: 12, labelShift: '   ',
  yMin: -2.9, yMax: 5.96, yTicks: ticksIfih1, yMajor: majorIfih1,
  oldY: ifih1OldY, oldW: ifih1OldW, youngY: ifih1YoungY, youngW: ifih1YoungW, oldPts: ifih1OldPts, youngPts: ifih1YoungPts
});
</script>
</body>
</html>
